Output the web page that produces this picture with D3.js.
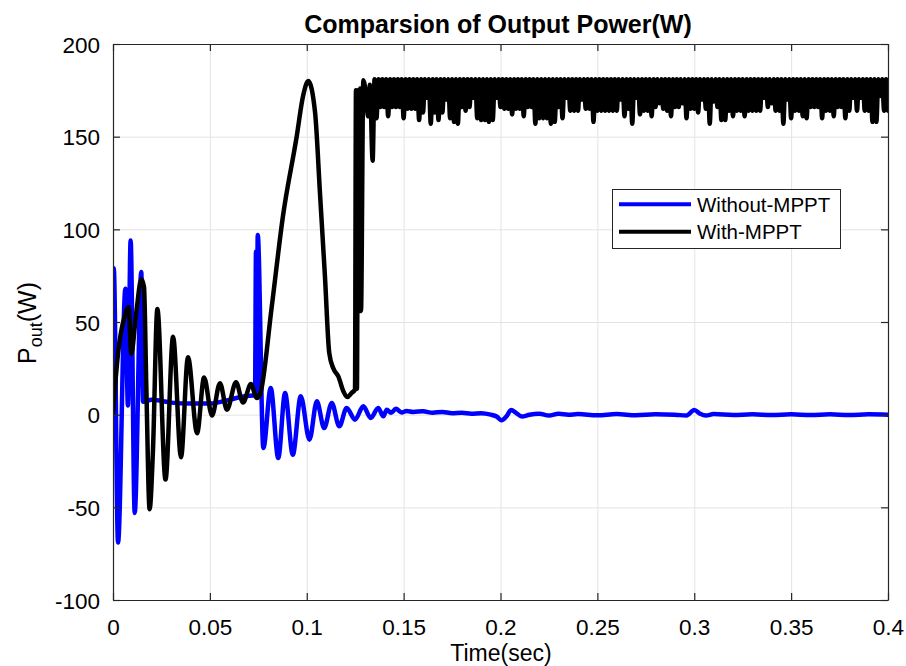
<!DOCTYPE html>
<html><head><meta charset="utf-8">
<script src="https://cdn.jsdelivr.net/npm/d3@7"></script>
<style>
body{margin:0;background:#fff}
svg{display:block}
text{font-family:"Liberation Sans",Arial,Helvetica,sans-serif;fill:#000}
</style>
</head><body>
<svg id="chart" width="906" height="666"></svg>
<script>
// ---------- data ----------
const titleText = "Comparsion of Output Power(W)";
const xLabelText = "Time(sec)";
const seriesNames = ["Without-MPPT", "With-MPPT"];
const xTicks = [0, 0.05, 0.1, 0.15, 0.2, 0.25, 0.3, 0.35, 0.4];
const xTickLabels = ["0", "0.05", "0.1", "0.15", "0.2", "0.25", "0.3", "0.35", "0.4"];
const yTicks = [-100, -50, 0, 50, 100, 150, 200];
const yTickLabels = ["-100", "-50", "0", "50", "100", "150", "200"];

// Without-MPPT (blue)
const withoutTime = [0,0.0004,0.0026,0.0064,0.0077,0.0091,0.0112,0.0146,0.0155,0.02,
  0.03,0.04,0.05,0.06,0.068,0.0733,0.0738,0.0742,0.0747,0.0776,
  0.0814,0.0853,0.0888,0.0928,0.0969,0.1014,0.1052,0.109,0.1129,0.1168,
  0.1206,0.1249,0.1292,0.133,0.1369,0.1395,0.1413,0.1435,0.146,0.149,
  0.1515,0.155,0.16,0.165,0.17,0.175,0.18,0.185,0.19,0.195,
  0.198,0.2005,0.203,0.2055,0.208,0.211,0.215,0.22,0.225,0.23,
  0.235,0.24,0.25,0.26,0.27,0.28,0.29,0.296,0.3,0.303,
  0.306,0.31,0.32,0.33,0.34,0.35,0.36,0.37,0.38,0.39,0.4];
const withoutPower = [0,79,-69,68,5,94,-53,77,7,8,
  6.5,6,6,8,10,10.5,88,10,97,-18,
  14.4,-23.4,11.7,-21.6,9.9,-13.5,7.2,-7.2,6.3,-6.3,
  3.6,-2.7,4.5,-1.8,3.6,-0.9,2.7,1,3.2,1.2,
  2,1.5,1.8,1,1.5,0.8,1,0.5,0.8,0,
  -1,-3,-1,2.5,1,-1,0,0.5,-0.5,0.5,
  0,0.3,-0.3,0.3,-0.3,0.2,0,-0.5,2.5,0.5,
  -0.5,0.3,-0.2,0.2,-0.2,0.2,-0.2,0.2,-0.2,0.2,0];

// With-MPPT (black), transient part
const withTime = [0,0.0026,0.006,0.0081,0.0094,0.012,0.0146,0.016,0.0172,
  0.0189,0.0206,0.0229,0.0271,0.031,0.0351,0.0387,0.0434,0.047,0.0511,
  0.0552,0.0588,0.0635,0.0671,0.0712,0.0742,0.0759,0.0819,0.0877,0.0948,
  0.0981,0.1008,0.1043,0.1068,0.1094,0.1116,0.1137,0.1163,0.1189,0.1209,
  0.1232,0.1249,0.1254,0.1259,0.1265,0.127,0.1275,0.128,0.1292,0.1306,
  0.1316,0.1326];
const withPower = [1,33,53,58,33,55,73,69,15,
  -51,-20,57,-35,42,-23,31,-10,20,-0.5,
  17,2.7,17.5,6.5,16.5,9,11,58,107,150,
  172,180,163,120,74.5,33.4,25,20.7,12.6,9.5,
  11.8,13.5,175,14,175,56,176,56,180.5,172,
  161,178];

// With-MPPT steady-state switching ripple: lows of each cycle (from t=0.134, every 0.002 s)
const bandStart = 0.134;
const bandStep = 0.002;
const bandPeak = 181;
const bandLows = [137,160,166,166,161,166,166,166,160,165,
  165,165,159,163,171,157,163,159,163,170,
  160,158,157,166,164,166,171,160,159,159,
  158,159,171,166,165,165,162,165,165,161,
  166,166,157,160,160,160,157,158,166,160,
  171,164,164,164,170,165,165,158,164,164,
  164,164,164,164,170,161,165,157,171,162,
  164,164,161,166,168,165,164,161,166,166,
  168,160,165,165,163,170,165,157,169,166,
  159,159,164,161,164,164,161,164,164,164,
  164,171,166,168,164,164,157,170,160,164,
  164,161,160,166,166,166,160,164,164,161,
  166,166,160,164,171,164,171,164,164,158,
  158,172,164,164];

// ---------- build ----------
const blueData = withoutTime.map((t, i) => [t, withoutPower[i]]);
const blackData = withTime.map((t, i) => [t, withPower[i]]);
bandLows.forEach((v, i) => {
  const t = bandStart + i * bandStep;
  blackData.push([t, v]);
  if (i < bandLows.length - 1) blackData.push([t + bandStep / 2, bandPeak]);
});

const L = 113, R = 888, T = 44, B = 600;
const svg = d3.select("#chart");
const x = d3.scaleLinear().domain([0, 0.4]).range([L, R]);
const y = d3.scaleLinear().domain([-100, 200]).range([B, T]);
const axisColor = "#262626";
const gridColor = "#e3e3e3";

svg.append("rect").attr("width", 906).attr("height", 666).attr("fill", "#fff");
svg.append("rect").attr("x", L).attr("y", T).attr("width", R - L).attr("height", B - T).attr("fill", "#fff");

// grid
const gx = svg.append("g").attr("transform", `translate(0,${B})`)
  .call(d3.axisBottom(x).tickValues(xTicks).tickSize(-(B - T)).tickFormat(""));
gx.select(".domain").remove();
gx.selectAll("line").attr("stroke", gridColor).attr("stroke-width", 1);
const gy = svg.append("g").attr("transform", `translate(${L},0)`)
  .call(d3.axisLeft(y).tickValues(yTicks).tickSize(-(R - L)).tickFormat(""));
gy.select(".domain").remove();
gy.selectAll("line").attr("stroke", gridColor).attr("stroke-width", 1);

// curves
svg.append("clipPath").attr("id", "clip").append("rect")
  .attr("x", L).attr("y", T).attr("width", R - L).attr("height", B - T);
const line = d3.line().x(d => x(d[0])).y(d => y(d[1])).curve(d3.curveMonotoneX);
const plot = svg.append("g").attr("clip-path", "url(#clip)");
plot.append("path").datum(blueData).attr("d", line)
  .attr("fill", "none").attr("stroke", "#0000ff").attr("stroke-width", 4.5)
  .attr("stroke-linejoin", "round").attr("stroke-linecap", "round");
plot.append("path").datum(blackData).attr("d", line)
  .attr("fill", "none").attr("stroke", "#000000").attr("stroke-width", 4.5)
  .attr("stroke-linejoin", "round").attr("stroke-linecap", "round");

// axes (box with inward ticks)
function styleAxis(g) {
  g.select(".domain").attr("stroke", axisColor).attr("stroke-width", 1.2);
  g.selectAll(".tick line").attr("stroke", axisColor).attr("stroke-width", 1.2);
}
const ax = svg.append("g").attr("transform", `translate(0,${B})`)
  .call(d3.axisBottom(x).tickValues(xTicks).tickSizeInner(-7).tickSizeOuter(0)
    .tickFormat((d, i) => xTickLabels[i]));
styleAxis(ax);
ax.selectAll(".tick text").attr("y", 35).attr("dy", 0)
  .style("font-size", "22.5px").attr("fill", "#000");
const axT = svg.append("g").attr("transform", `translate(0,${T})`)
  .call(d3.axisTop(x).tickValues(xTicks).tickSizeInner(-7).tickSizeOuter(0).tickFormat(""));
styleAxis(axT);
const ayL = svg.append("g").attr("transform", `translate(${L},0)`)
  .call(d3.axisLeft(y).tickValues(yTicks).tickSizeInner(-7).tickSizeOuter(0)
    .tickFormat((d, i) => yTickLabels[i]));
styleAxis(ayL);
ayL.selectAll(".tick text").attr("x", -13).attr("dy", "0.36em")
  .style("font-size", "22.5px").attr("fill", "#000");
const ayR = svg.append("g").attr("transform", `translate(${R},0)`)
  .call(d3.axisRight(y).tickValues(yTicks).tickSizeInner(-7).tickSizeOuter(0).tickFormat(""));
styleAxis(ayR);

// title & labels
svg.append("text").attr("x", 498).attr("y", 33).attr("text-anchor", "middle")
  .style("font-size", "25px").style("font-weight", "bold").text(titleText);
svg.append("text").attr("x", 501).attr("y", 661).attr("text-anchor", "middle")
  .style("font-size", "23px").text(xLabelText);
const yl = svg.append("text").attr("transform", "translate(36,323) rotate(-90)")
  .attr("text-anchor", "middle").style("font-size", "25px");
yl.append("tspan").text("P");
yl.append("tspan").attr("dy", 6).style("font-size", "18px").text("out");
yl.append("tspan").attr("dy", -6).text("(W)");

// legend
const lg = svg.append("g");
lg.append("rect").attr("x", 612.5).attr("y", 189.5).attr("width", 228).attr("height", 59)
  .attr("fill", "#fff").attr("stroke", axisColor).attr("stroke-width", 1);
const legendColors = ["#0000ff", "#000000"];
const legendY = [204.3, 231.7];
seriesNames.forEach((name, i) => {
  lg.append("line").attr("x1", 619).attr("x2", 691).attr("y1", legendY[i]).attr("y2", legendY[i])
    .attr("stroke", legendColors[i]).attr("stroke-width", 4);
  lg.append("text").attr("x", 697).attr("y", legendY[i] + 7.5)
    .style("font-size", "20.5px").text(name);
});
</script>
</body></html>
